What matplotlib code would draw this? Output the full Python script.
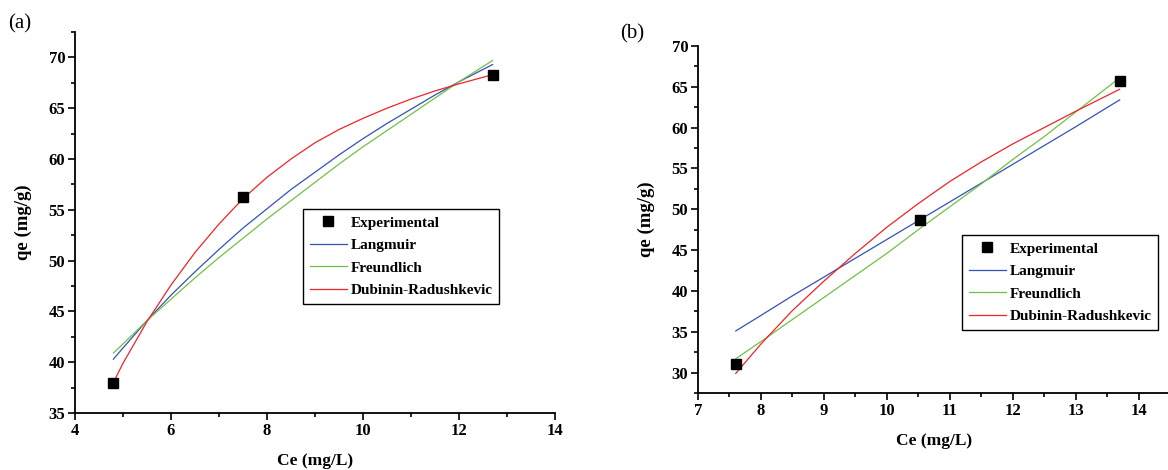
import numpy as np
import matplotlib
matplotlib.use("Agg")
import matplotlib.pyplot as plt
from matplotlib.ticker import MultipleLocator

plt.rcParams['font.family'] = ['Liberation Serif', 'DejaVu Serif']

# ---- panel (a) data ----
a_exp_x = [4.8, 7.5, 12.7]
a_exp_y = [38.0, 56.3, 68.3]
a_fit_x = [4.8, 5.0, 5.5, 6.0, 6.5, 7.0, 7.5, 8.0, 8.5, 9.0, 9.5, 10.0, 10.5, 11.0, 11.5, 12.0, 12.7]
a_lang = [40.3, 41.4, 44.1, 46.6, 48.9, 51.1, 53.2, 55.1, 57.0, 58.7, 60.4, 62.0, 63.5, 64.9, 66.3, 67.6, 69.3]
a_freu = [40.9, 41.8, 44.1, 46.2, 48.3, 50.3, 52.2, 54.1, 55.9, 57.7, 59.5, 61.2, 62.8, 64.4, 66.0, 67.6, 69.7]
a_dr = [38.0, 39.9, 44.0, 47.6, 50.8, 53.6, 56.1, 58.2, 60.0, 61.6, 62.9, 64.0, 65.0, 65.9, 66.7, 67.4, 68.3]

# ---- panel (b) data ----
b_exp_x = [7.6, 10.52, 13.7]
b_exp_y = [31.0, 48.7, 65.7]
b_fit_x = [7.6, 8.0, 8.5, 9.0, 9.5, 10.0, 10.5, 11.0, 11.5, 12.0, 12.5, 13.0, 13.7]
b_lang = [35.1, 37.0, 39.4, 41.7, 44.0, 46.3, 48.6, 50.9, 53.2, 55.5, 57.8, 60.1, 63.4]
b_freu = [31.7, 33.8, 36.5, 39.2, 41.9, 44.6, 47.5, 50.3, 53.1, 56.1, 58.9, 61.9, 66.1]
b_dr = [29.9, 33.5, 37.6, 41.2, 44.6, 47.8, 50.7, 53.4, 55.8, 58.0, 60.0, 62.0, 64.7]

labels = ['Experimental', 'Langmuir', 'Freundlich', 'Dubinin-Radushkevic']
c_lang = '#3352b5'
c_freu = '#72c043'
c_dr = '#ee2426'

W, H = 1168, 470
fig = plt.figure(figsize=(W / 100, H / 100), dpi=100)


def px(l, t, r, b):
    return [l / W, 1 - b / H, (r - l) / W, (b - t) / H]


def style(ax):
    for s in ['top', 'right']:
        ax.spines[s].set_visible(False)
    for s in ['left', 'bottom']:
        ax.spines[s].set_linewidth(1.3)
    ax.tick_params(which='both', direction='out', width=1.2, labelsize=12, pad=2)
    ax.tick_params(which='major', length=5)
    ax.tick_params(which='minor', length=3)
    for lab in ax.get_xticklabels() + ax.get_yticklabels():
        lab.set_fontweight('bold')
    ax.set_xlabel('Ce (mg/L)', fontsize=12.5, fontweight='bold', labelpad=10)
    ax.set_ylabel('qe (mg/g)', fontsize=13.5, fontweight='bold', labelpad=12)


def draw(ax, ex, ey, fx, l, f, d):
    ax.plot(ex, ey, 's', color='black', markersize=6.5, label=labels[0], zorder=5)
    ax.plot(fx, l, color=c_lang, lw=0.9, label=labels[1])
    ax.plot(fx, f, color=c_freu, lw=0.9, label=labels[2])
    ax.plot(fx, d, color=c_dr, lw=0.9, label=labels[3])


def legend(ax, x, y):
    leg = ax.legend(loc='upper left', bbox_to_anchor=(x / W, 1 - y / H),
                    bbox_transform=fig.transFigure, fancybox=False, framealpha=1,
                    edgecolor='black', handlelength=2.4, borderpad=0.45,
                    borderaxespad=0, labelspacing=0.58, handletextpad=0.25,
                    prop={'weight': 'bold', 'size': 11})
    leg.get_frame().set_linewidth(1.0)


# panel (a)
ax1 = fig.add_axes(px(75, 32, 555, 413))
draw(ax1, a_exp_x, a_exp_y, a_fit_x, a_lang, a_freu, a_dr)
ax1.set_xlim(4, 14)
ax1.set_ylim(35, 72.5)
ax1.xaxis.set_major_locator(MultipleLocator(2))
ax1.xaxis.set_minor_locator(MultipleLocator(1))
ax1.yaxis.set_major_locator(MultipleLocator(5))
ax1.yaxis.set_minor_locator(MultipleLocator(2.5))
style(ax1)
legend(ax1, 303, 209)
fig.text(8 / W, 1 - 24 / H, '(a)', fontsize=15, ha='left', va='center')

# panel (b)
ax2 = fig.add_axes(px(698, 46, 1170, 393))
draw(ax2, b_exp_x, b_exp_y, b_fit_x, b_lang, b_freu, b_dr)
ax2.set_xlim(7, 14.5)
ax2.set_ylim(27.5, 70)
ax2.xaxis.set_major_locator(MultipleLocator(1))
ax2.xaxis.set_minor_locator(MultipleLocator(0.5))
ax2.yaxis.set_major_locator(MultipleLocator(5))
ax2.yaxis.set_minor_locator(MultipleLocator(2.5))
style(ax2)
legend(ax2, 962, 235)
fig.text(620 / W, 1 - 34 / H, '(b)', fontsize=15, ha='left', va='center')

fig.savefig('out.png', dpi=100)
